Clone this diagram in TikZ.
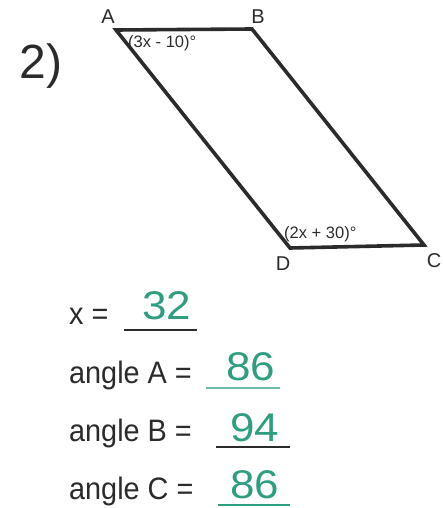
\documentclass[tikz,border=0pt]{standalone}
\usepackage{fontspec}
\setmainfont{Liberation Sans}
\definecolor{ink}{HTML}{2B2B2B}
\definecolor{pen}{HTML}{2E9E80}
\begin{document}
\begin{tikzpicture}[x=1pt,y=-1pt,
  vlabel/.style={font=\fontsize{20}{20}\selectfont, text=ink, inner sep=0pt},
  alabel/.style={font=\fontsize{16.5}{17}\selectfont, text=ink, inner sep=0pt, anchor=west},
  qtext/.style={font=\fontsize{31}{31}\selectfont, text=ink, inner sep=0pt, anchor=west, xscale=0.93},
  ans/.style={font=\fontsize{40}{40}\selectfont, text=pen, inner sep=0pt, xscale=1.1},
  uline/.style={line width=1.6pt, draw=ink},
  side/.style={line width=3.6pt, draw=ink, line join=miter}]
\useasboundingbox (0,0) rectangle (443,508);
\coordinate (A) at (116,30);
\coordinate (B) at (252,29);
\coordinate (C) at (424,245);
\coordinate (D) at (290,248);
\draw[side] (A) -- (B) -- (C) -- (D) -- cycle;
\node[font=\fontsize{48}{48}\selectfont, text=ink, inner sep=0pt] (num) at (41,66) {2)};
\node[vlabel] (lA) at (108,17) {A};
\node[vlabel] (lB) at (258,17) {B};
\node[vlabel] (lD) at (283,264) {D};
\node[vlabel] (lC) at (434,261) {C};
\node[alabel] (aA) at (128,43) {(3x - 10)°};
\node[alabel] (aD) at (284,234) {(2x + 30)°};
\node[qtext] (q1) at (69,316) {x =};
\node[qtext] (q2) at (69,375) {angle A =};
\node[qtext] (q3) at (69,433) {angle B =};
\node[qtext] (q4) at (69,491) {angle C =};
\coordinate (u1a) at (124,330); \coordinate (u1b) at (197,330);
\coordinate (u2a) at (206,388); \coordinate (u2b) at (280,388);
\coordinate (u3a) at (216,447); \coordinate (u3b) at (290,447);
\coordinate (u4a) at (218,505); \coordinate (u4b) at (290,505);
\draw[uline] (u1a) -- (u1b);
\draw[uline, draw=pen!70] (u2a) -- (u2b);
\draw[uline] (u3a) -- (u3b);
\draw[uline, draw=pen] (u4a) -- (u4b);
\node[ans] (v1) at (167,306) {32};
\node[ans] (v2) at (251,367) {86};
\node[ans] (v3) at (255,428) {94};
\node[ans] (v4) at (255,485) {86};
\end{tikzpicture}
\end{document}
